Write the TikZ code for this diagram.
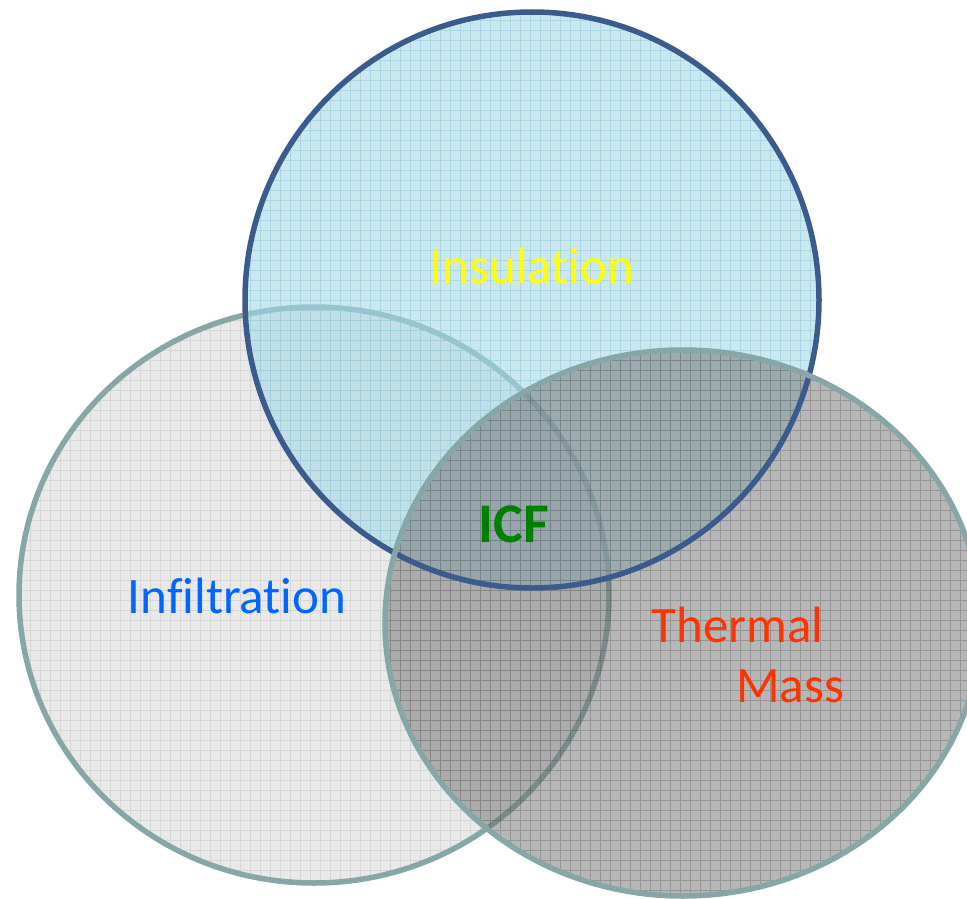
\documentclass[tikz,border=0pt]{standalone}
\usepackage{fontspec}
\setmainfont{Carlito}[Ligatures={NoCommon}]
\definecolor{topfill}{RGB}{168,216,230}
\definecolor{topgrid}{RGB}{140,200,218}
\definecolor{topedge}{RGB}{59,91,140}
\definecolor{leftfill}{RGB}{233,233,233}
\definecolor{leftgrid}{RGB}{214,214,214}
\definecolor{rightfill}{RGB}{112,112,112}
\definecolor{rightgrid}{RGB}{70,70,70}
\definecolor{grayedge}{RGB}{134,166,168}
\definecolor{insul}{RGB}{255,255,0}
\definecolor{infil}{RGB}{0,102,255}
\definecolor{therm}{RGB}{255,51,0}
\definecolor{icf}{RGB}{0,128,0}
\tikzset{
  lbl/.style={anchor=base, inner sep=0pt, font=\fontsize{51}{60}\selectfont},
  edgetop/.style={draw=topedge, line width=5.5pt},
  edgegray/.style={draw=grayedge, line width=5.5pt},
}
\begin{document}
\begin{tikzpicture}[x=1pt,y=-1pt]
\useasboundingbox (0,0) rectangle (967,899);
% left circle (Infiltration)
\fill[leftfill] (314,595) ellipse [x radius=295, y radius=288];
\begin{scope}
  \clip (314,595) ellipse [x radius=295, y radius=288];
  \draw[leftgrid, line width=0.8pt, step=10pt] (0,0) grid (967,899);
\end{scope}
\draw[edgegray] (314,595) ellipse [x radius=295, y radius=288];
% top circle (Insulation)
\fill[topfill, fill opacity=0.6] (532,300) ellipse [x radius=287, y radius=288];
\begin{scope}
  \clip (532,300) ellipse [x radius=287, y radius=288];
  \draw[topgrid, line width=0.8pt, step=10pt, opacity=0.5] (0,0) grid (967,899);
\end{scope}
% right circle (Thermal Mass)
\fill[rightfill, fill opacity=0.5] (683,623) ellipse [x radius=298, y radius=273];
\begin{scope}
  \clip (683,623) ellipse [x radius=298, y radius=273];
  \draw[rightgrid, line width=0.8pt, step=10pt, opacity=0.3] (0,0) grid (967,899);
\end{scope}
% borders
\draw[edgetop] (532,300) ellipse [x radius=287, y radius=288];
\draw[edgegray] (683,623) ellipse [x radius=298, y radius=273];
% labels
\node[lbl, text=insul] (insulation) at (532,283) {Insulation};
\node[lbl, text=infil] (infiltration) at (237,613) {Infiltration};
\node[lbl, text=therm] (thermal) at (737.5,642) {Thermal};
\node[lbl, text=therm] (mass) at (790,702) {Mass};
\node[anchor=base, inner sep=0pt, text=icf, font=\fontsize{56}{64}\selectfont\bfseries] (icf) at (514,542) {ICF};
\end{tikzpicture}
\end{document}
